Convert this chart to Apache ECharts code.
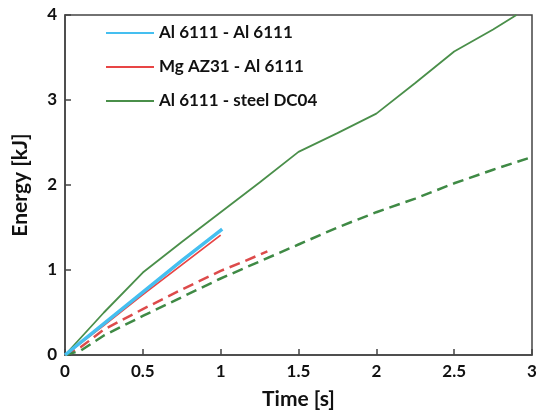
<!DOCTYPE html>
<html>
<head>
<meta charset="utf-8">
<script src="https://cdn.jsdelivr.net/npm/echarts@6/dist/echarts.min.js"></script>
<style>html,body{margin:0;padding:0;background:#fff;}#c{width:546px;height:412px;}</style>
</head>
<body>
<div id="c"></div>
<script>
const xTicks = [0, 0.5, 1, 1.5, 2, 2.5, 3];
const yTicks = [0, 1, 2, 3, 4];
const legendNames = ['Al 6111 - Al 6111', 'Mg AZ31 - Al 6111', 'Al 6111 - steel DC04'];

const alAlSolid = [[0,0],[0.25,0.37],[0.5,0.74],[0.75,1.11],[1.01,1.48]];
const mgAlSolid = [[0,0],[0.25,0.35],[0.5,0.71],[0.75,1.06],[1.0,1.41]];
const alSteelSolid = [[0,0],[0.1,0.2],[0.25,0.5],[0.5,0.97],[0.75,1.33],[1.0,1.68],[1.25,2.03],[1.5,2.39],[1.75,2.61],[2.0,2.84],[2.25,3.2],[2.5,3.57],[2.75,3.83],[2.9,4.0]];
const mgAlDashed = [[0,0],[0.1,0.09],[0.25,0.3],[0.5,0.54],[0.75,0.77],[1.0,0.99],[1.15,1.1],[1.3,1.22]];
const alSteelDashed = [[0,0],[0.1,0.05],[0.25,0.23],[0.5,0.46],[0.75,0.68],[1.0,0.9],[1.25,1.1],[1.5,1.3],[1.75,1.5],[2.0,1.68],[2.25,1.84],[2.5,2.02],[2.75,2.18],[3.0,2.33]];

const FONT = 'Lato';
const TXT = '#111';
const chart = echarts.init(document.getElementById('c'), null, {renderer: 'canvas'});
chart.setOption({
  animation: false,
  backgroundColor: '#fff',
  grid: {left: 65, right: 14, top: 15, bottom: 57, containLabel: false, outerBoundsMode: 'none', show: true, borderColor: '#444', borderWidth: 1.5, backgroundColor: 'transparent'},
  legend: {
    data: legendNames,
    orient: 'vertical',
    left: 105, top: 23, padding: 0,
    itemWidth: 48, itemHeight: 20, itemGap: 14,
    itemStyle: {opacity: 0, borderWidth: 0},
    textStyle: {fontFamily: FONT, fontSize: 17, fontWeight: 'bold', color: TXT, lineHeight: 20, height: 20},
    inactiveColor: '#ccc'
  },
  xAxis: {
    type: 'value', min: 0, max: 3, interval: 0.5,
    name: 'Time [s]', nameLocation: 'middle', nameGap: 34,
    nameTextStyle: {fontFamily: FONT, fontSize: 21, fontWeight: 'bold', color: TXT},
    axisLine: {show: true, lineStyle: {color: '#444', width: 1.5}},
    axisTick: {show: true, inside: true, length: 6, lineStyle: {color: '#444', width: 1.5}},
    axisLabel: {fontFamily: FONT, fontSize: 17, fontWeight: 'bold', color: TXT, margin: 8, formatter: v => String(v)},
    splitLine: {show: false}
  },
  yAxis: {
    type: 'value', min: 0, max: 4, interval: 1,
    name: 'Energy [kJ]', nameLocation: 'middle', nameGap: 34,
    nameTextStyle: {fontFamily: FONT, fontSize: 21, fontWeight: 'bold', color: TXT},
    axisLine: {show: true, lineStyle: {color: '#444', width: 1.5}},
    axisTick: {show: true, inside: true, length: 6, lineStyle: {color: '#444', width: 1.5}},
    axisLabel: {fontFamily: FONT, fontSize: 17, fontWeight: 'bold', color: TXT, margin: 8, formatter: v => String(v)},
    splitLine: {show: false}
  },
  series: [
    {name: legendNames[2], type: 'line', data: alSteelSolid, symbol: 'none', lineStyle: {color: '#4a8f4a', width: 1.8}, itemStyle: {color: '#4a8f4a'}, z: 2},
    {name: 'mgDashed', type: 'line', data: mgAlDashed, symbol: 'none', lineStyle: {color: '#dd4b4b', width: 2.5, type: [11, 6]}, itemStyle: {color: '#dd4b4b'}, z: 2},
    {name: 'steelDashed', type: 'line', data: alSteelDashed, symbol: 'none', lineStyle: {color: '#3f8a45', width: 2.5, type: [11, 6]}, itemStyle: {color: '#3f8a45'}, z: 2},
    {name: legendNames[1], type: 'line', data: mgAlSolid, symbol: 'none', lineStyle: {color: '#e84545', width: 1.8}, itemStyle: {color: '#e84545'}, z: 3},
    {name: legendNames[0], type: 'line', data: alAlSolid, symbol: 'none', lineStyle: {color: '#45bff0', width: 3.5}, itemStyle: {color: '#45bff0'}, z: 4}
  ]
});
</script>
</body>
</html>
